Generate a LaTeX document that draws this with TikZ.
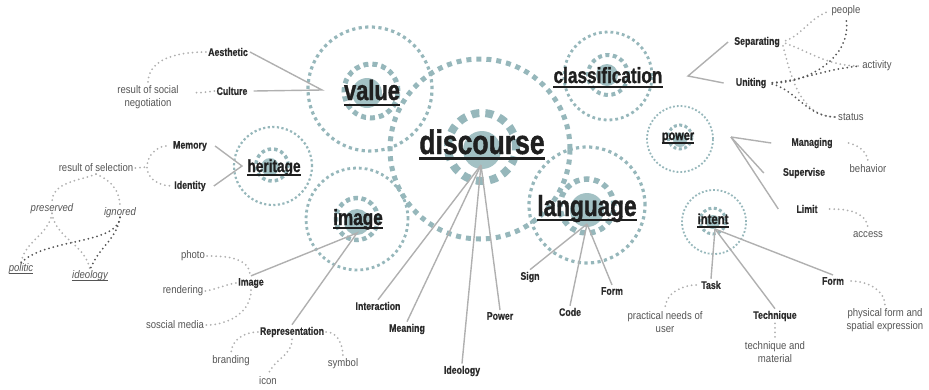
\documentclass[tikz,border=0pt]{standalone}
\usepackage{fontspec}
\setmainfont{Liberation Sans}
\newfontfamily\topicfont{Liberation Sans}[FakeStretch=0.78,BoldFeatures={FakeBold=1.2}]
\newfontfamily\keyfont{Liberation Sans}[FakeStretch=0.8,BoldFeatures={FakeBold=0.5}]
\newfontfamily\notefont{Liberation Sans}[FakeStretch=0.87]
\definecolor{RingTeal}{HTML}{96B7BB}
\definecolor{DiscTeal}{HTML}{A3C1C4}
\definecolor{TopicInk}{HTML}{1F1F1F}
\definecolor{KeyInk}{HTML}{2B2B2B}
\definecolor{NoteInk}{HTML}{555555}
\definecolor{SpokeGray}{HTML}{B0B0B0}
\definecolor{HintGray}{HTML}{B0B0B0}
\definecolor{HintDark}{HTML}{555555}

\begin{document}
\begin{tikzpicture}[
  x=1pt, y=1pt,
  ring/.style 2 args={draw=RingTeal,line width=#1,dash pattern=on #1 off #2},
  topic/.style={font=\topicfont\bfseries\fontsize{#1}{#1}\selectfont,text=TopicInk,inner sep=0pt,anchor=base},
  key/.style={font=\keyfont\bfseries\fontsize{11}{13}\selectfont,text=KeyInk,inner sep=2pt},
  note/.style={font=\notefont\fontsize{11}{13}\selectfont,text=NoteInk,align=center,inner sep=2pt},
  tag/.style={note,font=\notefont\itshape\fontsize{11}{13}\selectfont,inner sep=0pt,anchor=base},
  spoke/.style={draw=SpokeGray,line width=1.4pt},
  hint/.style={draw=HintGray,line width=2pt,line cap=round,dash pattern=on 0pt off 4.5pt},
  hintdark/.style={hint,draw=HintDark}
]
\useasboundingbox (0,0) rectangle (929,-389);

% rings: outer dotted circle, inner dashed circle, filled core
\foreach \x/\y/\r/\w/\g in {480/149/90/5pt/5pt, 370/89/62/3.2pt/3.4pt, 608/76/44/2.8pt/3pt,
    587/205/58/3.2pt/3.4pt, 273/166/39/2.2pt/2.4pt, 357/219/51/2.8pt/3pt,
    680/139/33/1.8pt/2pt, 714/222/32/1.8pt/2pt}
  \draw[ring={\w}{\g}] (\x,-\y) circle[radius=\r];
\foreach \x/\y/\r/\w/\g in {482/147/34/8pt/6pt, 371/91/27/5pt/4pt, 608/75/20/4pt/3.5pt,
    587/206/27/5.5pt/4.5pt, 272/165/16/3.5pt/3pt, 357/219/21/4.5pt/3.5pt,
    680/137/12/3pt/2.5pt, 713/221/13/3pt/2.5pt}
  \draw[ring={\w}{\g}] (\x,-\y) circle[radius=\r];
\foreach \x/\y/\r in {482/150/19, 367/93/15, 607/75/11, 587/210/17, 270/167/9,
    357/222/13, 680/140/7, 713/222/7}
  \fill[DiscTeal] (\x,-\y) circle[radius=\r];

\node[topic=34] (disc) at (482,-154) {discourse};
\node[topic=28] (valu) at (372,-100) {value};
\node[topic=22] (clas) at (608,-83) {classification};
\node[topic=29] (lang) at (587,-216) {language};
\node[topic=17.5] (heri) at (274,-172) {heritage};
\node[topic=22] (imag) at (358,-225) {image};
\node[topic=14] (powe) at (678,-140) {power};
\node[topic=14.5] (inte) at (713,-224) {intent};
\foreach \n/\w/\d in {disc/3pt/4pt, valu/2.6pt/5pt, clas/2pt/4pt, lang/2.6pt/4pt,
    heri/1.8pt/3pt, imag/2pt/3pt, powe/1.5pt/3pt, inte/1.5pt/3pt}
  \draw[TopicInk,line width=\w] ([yshift=-\d]\n.base west) -- ([yshift=-\d]\n.base east);

\node[key] (aest) at (228,-52) {Aesthetic};
\node[key] (cult) at (232,-91) {Culture};
\node[key] (memo) at (190,-146) {Memory};
\node[key] (iden) at (190,-186) {Identity};
\node[key] (imgk) at (251,-283) {Image};
\node[key] (repr) at (292,-332) {Representation};
\node[key] (intr) at (378,-306) {Interaction};
\node[key] (mean) at (407,-329) {Meaning};
\node[key] (ideo) at (462,-371) {Ideology};
\node[key] (powk) at (500,-316) {Power};
\node[key] (sign) at (530,-277) {Sign};
\node[key] (code) at (570,-312) {Code};
\node[key] (lfrm) at (612,-291) {Form};
\node[key] (sepa) at (757,-42) {Separating};
\node[key] (unit) at (751,-83) {Uniting};
\node[key] (mana) at (812,-143) {Managing};
\node[key] (supv) at (804,-173) {Supervise};
\node[key] (limt) at (807,-209) {Limit};
\node[key] (task) at (711,-285) {Task};
\node[key] (tech) at (775,-316) {Technique};
\node[key] (ifrm) at (833,-281) {Form};

\node[note] (nego) at (148,-97) {result of social\\negotiation};
\node[note] (sele) at (96,-168) {result of selection};
\node[tag] (pres) at (52,-211) {preserved};
\node[tag] (igno) at (120,-215) {ignored};
\node[tag] (poli) at (21,-271) {politic};
\node[tag] (idlg) at (90,-278) {ideology};
\node[note] (phot) at (193,-256) {photo};
\node[note] (rend) at (183,-291) {rendering};
\node[note] (smed) at (175,-325) {soscial media};
\node[note] (bran) at (231,-361) {branding};
\node[note] (icon) at (268,-381) {icon};
\node[note] (symb) at (343,-364) {symbol};
\node[note] (peop) at (846,-11) {people};
\node[note] (acti) at (877,-66) {activity};
\node[note] (stat) at (851,-117) {status};
\node[note] (beha) at (868,-169) {behavior};
\node[note] (acce) at (868,-235) {access};
\node[note] (need) at (665,-322) {practical needs of\\user};
\node[note] (tmat) at (775,-352) {technique and\\material};
\node[note] (phys) at (885,-320) {physical form and\\spatial expression};
\foreach \n in {poli,idlg}
  \draw[NoteInk,line width=0.8pt] ([yshift=-2.5pt]\n.base west) -- ([yshift=-2.5pt]\n.base east);

\coordinate (dhub) at (481,-165);
\coordinate (vhub) at (322,-90);
\coordinate (hhub) at (242,-166);
\coordinate (ihub) at (357,-233);
\coordinate (lhub) at (587,-224);
\coordinate (chub) at (688,-76);
\coordinate (phub) at (731,-137);
\coordinate (thub) at (715,-229);
\coordinate (shub) at (147,-167);

\foreach \k in {intr,mean,ideo,powk}
  \draw[spoke] (dhub) -- (\k.north);
\foreach \k in {sign,code,lfrm}
  \draw[spoke] (lhub) -- (\k.north);
\foreach \k in {task,tech,ifrm}
  \draw[spoke] (thub) -- (\k.north);
\draw[spoke] (aest.east) -- (vhub) -- ([xshift=4pt]cult.east);
\draw[spoke] ([xshift=6pt]memo.east) -- (hhub) -- ([xshift=6pt]iden.east);
\draw[spoke] (imgk.north) -- (ihub) -- (repr.north);
\draw[spoke] ([xshift=-4pt]sepa.west) -- (chub) -- ([xshift=-10pt]unit.west);
\draw[spoke] (phub) -- ([xshift=-18pt]mana.west);
\draw[spoke] (phub) -- ([xshift=-17pt]supv.west);
\draw[spoke] (phub) -- ([xshift=-16pt]limt.west);

\draw[hint] (aest.west) to[out=180,in=90] (nego.north);
\draw[hint,shorten >=12pt] (cult.west) to[out=190,in=20] (nego.east);
\draw[hint,shorten <=5pt] (memo.west) to[out=180,in=90] (shub) to[out=-90,in=180] (iden.west);
\draw[hint] (sele.east) -- (shub);
\draw[hint] (sele.south) to[out=200,in=90] (pres.north);
\draw[hint] (sele.south) to[out=-20,in=90] (igno.north);
\draw[hint] (pres.south) to[out=-100,in=80] (poli.north);
\draw[hint] (pres.south) to[out=-80,in=100] (idlg.north);
\draw[hintdark] (igno.south) .. controls (117,-245) and (45,-238) .. (poli.north);
\draw[hintdark] (igno.south) to[out=-100,in=70] (idlg.north);

\draw[hint] (phot.east) to[out=0,in=90] ([xshift=-1pt]imgk.north);
\draw[hint] (rend.east) to[out=10,in=190] (imgk.west);
\draw[hint] (imgk.south) to[out=-90,in=0] (smed.east);
\draw[hint] (repr.west) to[out=180,in=90] (bran.north);
\draw[hint] (repr.south) to[out=-90,in=70] (icon.north);
\draw[hint] (repr.east) to[out=0,in=90] (symb.north);

\draw[hint,shorten <=4pt] (sepa.east) to[out=20,in=200] (peop.west);
\draw[hint,shorten <=4pt] (sepa.east) to[out=-20,in=180] (acti.west);
\draw[hint,shorten <=4pt] (sepa.east) to[out=-75,in=180] (stat.west);
\draw[hintdark,shorten <=4pt] (unit.east) to[out=0,in=-80] (peop.south);
\draw[hintdark,shorten <=4pt] (unit.east) to[out=5,in=185] (acti.west);
\draw[hintdark,shorten <=4pt] (unit.east) to[out=-15,in=180] (stat.west);

\draw[hint,shorten <=14pt] (mana.east) to[out=0,in=90] (beha.north);
\draw[hint,shorten <=10pt] (limt.east) to[out=0,in=90] (acce.north);
\draw[hint,shorten <=3pt] (task.west) to[out=180,in=90] (need.north);
\draw[hint] (tech.south) -- (tmat.north);
\draw[hint,shorten <=5pt] (ifrm.east) to[out=0,in=90] (phys.north);
\end{tikzpicture}
\end{document}
